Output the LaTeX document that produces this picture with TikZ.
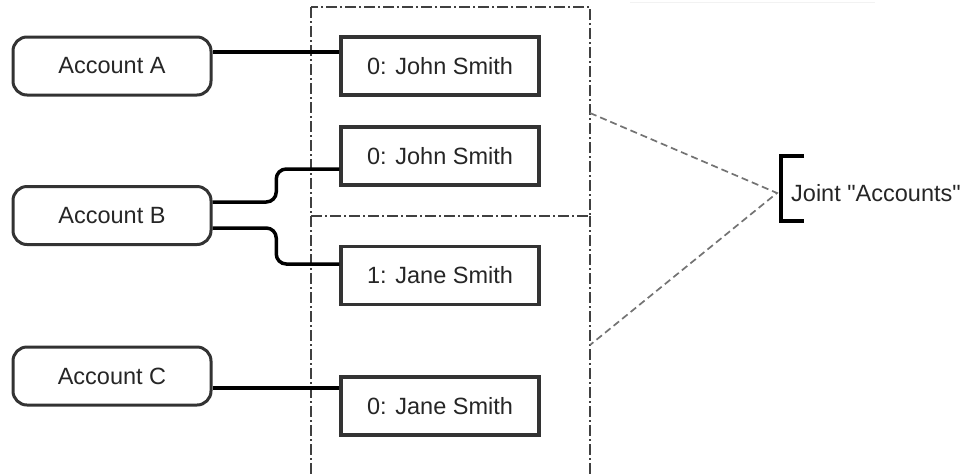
\documentclass[tikz,border=0pt]{standalone}
\usepackage{fontspec}
\setmainfont{Liberation Sans}
\begin{document}
\begin{tikzpicture}[x=1pt,y=-1pt,
  lbl/.style={font=\fontsize{23.5}{27}\selectfont, text=black!85},
  acct/.style={lbl, draw=black!80, line width=3pt, rounded corners=14pt,
    minimum width=198pt, minimum height=58pt, inner sep=0pt, fill=white},
  rec/.style={lbl, draw=black!80, line width=3.5pt,
    minimum width=198pt, minimum height=58pt, inner sep=0pt, fill=white},
  link/.style={line width=3.5pt, black},
  frame/.style={line width=1.7pt, black!75, dash pattern=on 11pt off 3pt on 2pt off 3pt},
  guide/.style={line width=1.7pt, black!55, dash pattern=on 7pt off 4pt}]
\useasboundingbox (0,0) rectangle (966,475);

% faint rule along the top edge
\draw[black!5, line width=1pt] (630,2) -- (875,2);

% owner groups
\coordinate (ftl) at (311,7);
\coordinate (fbr) at (590,216);
\coordinate (fbl) at (311,216);
\coordinate (fl) at (311,475);
\coordinate (fr) at (590,475);
\draw[frame] (ftl) rectangle (fbr);
\draw[frame] (fbl) -- (fl);
\draw[frame] (fbr) -- (fr);

% accounts
\node[acct] (accA) at (112,66) {Account A};
\node[acct] (accB) at (112,215.5) {Account B};
\node[acct] (accC) at (112,376) {Account C};

% owners
\node[rec] (b1) at (440,66) {0: John Smith};
\node[rec] (b2) at (440,156) {0: John Smith};
\node[rec] (b3) at (440,275.5) {1: Jane Smith};
\node[rec] (b4) at (440,406) {0: Jane Smith};

% links from accounts to owners
\draw[link] ([yshift=14pt]accA.east) -- ([yshift=14pt]b1.west);
\draw[link, rounded corners=10pt] ([yshift=13.5pt]accB.east)
  -| ([xshift=-63pt,yshift=-13pt]b2.west) -- ([yshift=-13pt]b2.west);
\draw[link, rounded corners=10pt] ([yshift=-12.5pt]accB.east)
  -| ([xshift=-63pt,yshift=11.5pt]b3.west) -- ([yshift=11.5pt]b3.west);
\draw[link] ([yshift=-12pt]accC.east) -- ([yshift=18pt]b4.west);

% annotation
\coordinate (gtop) at (590,113);
\coordinate (gbot) at (590,345);
\coordinate (joint) at (777,193);
\draw[guide] (gtop) -- (joint) -- (gbot);
\draw[line width=4.5pt, black] (804,156) -- (781,156) -- (781,221) -- (804,221);
\node[lbl, anchor=west, inner sep=0pt] (joint label) at (791,193) {Joint \textquotedbl Accounts\textquotedbl};
\end{tikzpicture}
\end{document}
